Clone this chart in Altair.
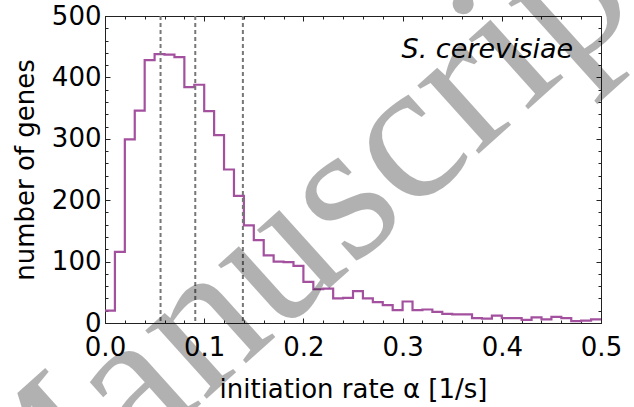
import altair as alt
import pandas as pd

# ---- data ----
bin_width = 0.01
counts = [20, 116, 299, 346, 428, 438, 437, 433, 384, 388,
          345, 306, 250, 207, 159, 135, 110, 100, 99, 93,
          67, 55, 56, 40, 41, 52, 40, 34, 29, 21,
          35, 21, 22, 18, 15, 14, 14, 8, 7, 12,
          8, 8, 5, 9, 6, 10, 8, 3, 4, 6]
bin_starts = [round(i * bin_width, 2) for i in range(len(counts))]
quantiles = [0.056, 0.091, 0.139]
x_major = [0.0, 0.1, 0.2, 0.3, 0.4, 0.5]
x_minor = [round(0.02 * i, 2) for i in range(26)]
y_major = [0, 100, 200, 300, 400, 500]
y_minor = [20 * i for i in range(26)]
species = ["S. cerevisiae"]
watermark = ["Manuscript"]

# step line: each bin start plus the right edge of the last bin
hist = pd.DataFrame({
    "rate": bin_starts + [round(bin_starts[-1] + bin_width, 2)],
    "genes": counts + [counts[-1]],
})
qdf = pd.DataFrame({"q": quantiles})
sdf = pd.DataFrame({"x": [0.472], "y": [431], "label": species})
wdf = pd.DataFrame({"x": [0.2], "y": [150], "label": watermark})

W, H = 496, 307
xs = alt.Scale(domain=[0, 0.5], nice=False, zero=False)
ys = alt.Scale(domain=[0, 500], nice=False, zero=False)
FONT = "DejaVu Sans"
PURPLE = "#a3509f"
TICK = "#222222"


def tick_axis(orient, values, size):
    return alt.Axis(orient=orient, values=values, labels=False, title=None,
                    domain=False, grid=False, ticks=True,
                    tickSize=alt.ExprRef(expr=str(-size)),
                    tickColor=TICK, tickWidth=1)


def ghost(xo, yo, xv, yv, size):
    return alt.Chart(hist).mark_line(opacity=0).encode(
        x=alt.X("rate:Q", scale=xs, axis=tick_axis(xo, xv, size)),
        y=alt.Y("genes:Q", scale=ys, axis=tick_axis(yo, yv, size)),
    )


line = alt.Chart(hist).mark_line(
    interpolate="step-after", color=PURPLE, strokeWidth=2.2
).encode(
    x=alt.X("rate:Q", scale=xs, axis=alt.Axis(
        orient="bottom", values=x_major, format=".1f", ticks=False,
        domain=False, grid=False, labelFlush=False, labelOverlap=False,
        labelPadding=11, title="initiation rate α [1/s]",
        titleX=W / 2, titleY=74, titleBaseline="alphabetic", titleAlign="center")),
    y=alt.Y("genes:Q", scale=ys, axis=alt.Axis(
        orient="left", values=y_major, ticks=False, domain=False, grid=False,
        labelFlush=False, labelOverlap=False, labelPadding=4,
        title="number of genes", titleAngle=270, titleX=-72, titleY=H / 2,
        titleBaseline="alphabetic", titleAlign="center")),
)

rules = alt.Chart(qdf).mark_rule(
    color="#777777", strokeWidth=2, strokeDash=[4, 3]
).encode(x=alt.X("q:Q", scale=xs, axis=None))

label = alt.Chart(sdf).mark_text(
    font=FONT, fontSize=27, fontStyle="italic", align="right",
    baseline="alphabetic", color="black"
).encode(
    x=alt.X("x:Q", scale=xs, axis=None),
    y=alt.Y("y:Q", scale=ys, axis=None),
    text="label:N",
)

mark_wm = alt.Chart(wdf).mark_text(
    font="Liberation Serif", fontSize=200, angle=318, align="center",
    baseline="middle", color="black", opacity=0.3
).encode(
    x=alt.X("x:Q", scale=xs, axis=None),
    y=alt.Y("y:Q", scale=ys, axis=None),
    text="label:N",
)

chart = alt.layer(
    line,
    ghost("bottom", "left", x_major, y_major, 5),
    ghost("bottom", "left", x_minor, y_minor, 3),
    ghost("top", "right", x_major, y_major, 5),
    ghost("top", "right", x_minor, y_minor, 3),
    rules, label, mark_wm,
).resolve_axis(x="independent", y="independent").properties(
    width=W, height=H,
    autosize=alt.AutoSizeParams(type="none"),
    padding={"left": 105, "top": 16, "right": 33, "bottom": 84},
    background="white",
).configure_view(
    stroke=TICK, strokeWidth=1
).configure_axis(
    labelFont=FONT, labelFontSize=26, labelColor="black",
    titleFont=FONT, titleFontSize=26, titleFontWeight="normal", titleColor="black",
)

chart.save("out.html", embed_options={"renderer": "svg", "actions": False})
